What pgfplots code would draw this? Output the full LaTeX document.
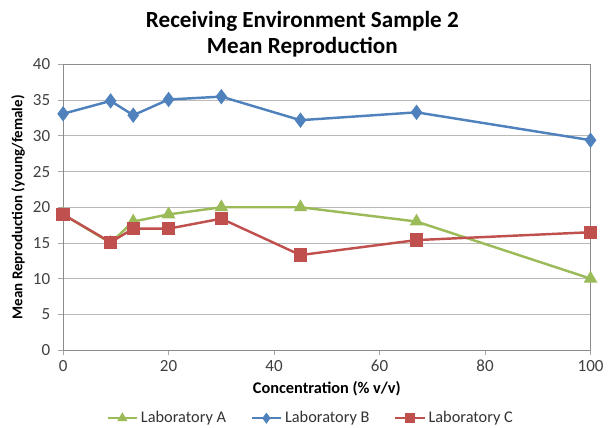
\documentclass[border=0pt]{standalone}
\usepackage{pgfplots}
\pgfplotsset{compat=1.18}
\usepackage{fontspec}
\setmainfont{Carlito}
\definecolor{labA}{RGB}{155,187,89}
\definecolor{labB}{RGB}{79,129,189}
\definecolor{labC}{RGB}{192,80,77}
\begin{document}
\begin{tikzpicture}
\begin{axis}[
	scale only axis,
	width=388pt,
	height=210pt,
	xmin=0, xmax=100,
	ymin=0, ymax=40,
	xtick={0,20,40,60,80,100},
	ytick={0,5,...,40},
	ymajorgrids,
	grid style={draw=gray!55, line width=0.6pt},
	axis line style={draw=gray!90, line width=0.7pt},
	tick style={draw=gray!70, line width=0.6pt},
	xtick pos=bottom, ytick pos=left,
	tick align=outside,
	major tick length=4pt,
	/pgf/number format/assume math mode=true,
	tick label style={font=\fontsize{12.5}{14}\selectfont, text=black!75},
	yticklabel style={xshift=-2pt},
	title={\textbf{Receiving Environment Sample 2}\\\textbf{Mean Reproduction}},
	title style={align=center, font=\fontsize{17}{19}\selectfont, yshift=-4pt, xshift=-18pt},
	xlabel={\textbf{Concentration (\% v/v)}},
	ylabel={\textbf{Mean Reproduction (young/female)}},
	xlabel style={font=\fontsize{12}{13}\selectfont, yshift=0pt},
	ylabel style={font=\fontsize{11}{12}\selectfont, yshift=-1pt},
	legend style={at={(0.47,-0.205)}, anchor=north, draw=none, legend columns=3,
		font=\fontsize{12}{13}\selectfont, text=black!80, inner sep=0pt,
		/tikz/every even column/.append style={column sep=16pt}},
	legend image code/.code={
		\draw[#1, mark size=2.6pt, mark repeat=2, mark phase=2] plot coordinates {(0cm,0cm) (0.38cm,0cm) (0.76cm,0cm)};},
	every axis plot/.append style={line width=1.8pt},
]
\addplot[color=labA, mark=triangle*, mark size=4pt, mark options={solid}] coordinates {
	(0,19) (9,15) (13.3,18) (20,19) (30,20) (45,20) (67,18) (100,10)
};
\addplot[color=labB, mark=diamond*, mark size=4.2pt] coordinates {
	(0,33.1) (9,34.9) (13.3,32.9) (20,35.1) (30,35.5) (45,32.2) (67,33.3) (100,29.4)
};
\addplot[color=labC, mark=square*, mark size=4pt] coordinates {
	(0,19) (9,15.1) (13.3,17) (20,17) (30,18.4) (45,13.3) (67,15.4) (100,16.5)
};
\legend{Laboratory A, Laboratory B, Laboratory C}
\end{axis}
\path (current bounding box.north) ++(0,5pt);
\path (current bounding box.west) ++(-5pt,0);
\end{tikzpicture}
\end{document}
